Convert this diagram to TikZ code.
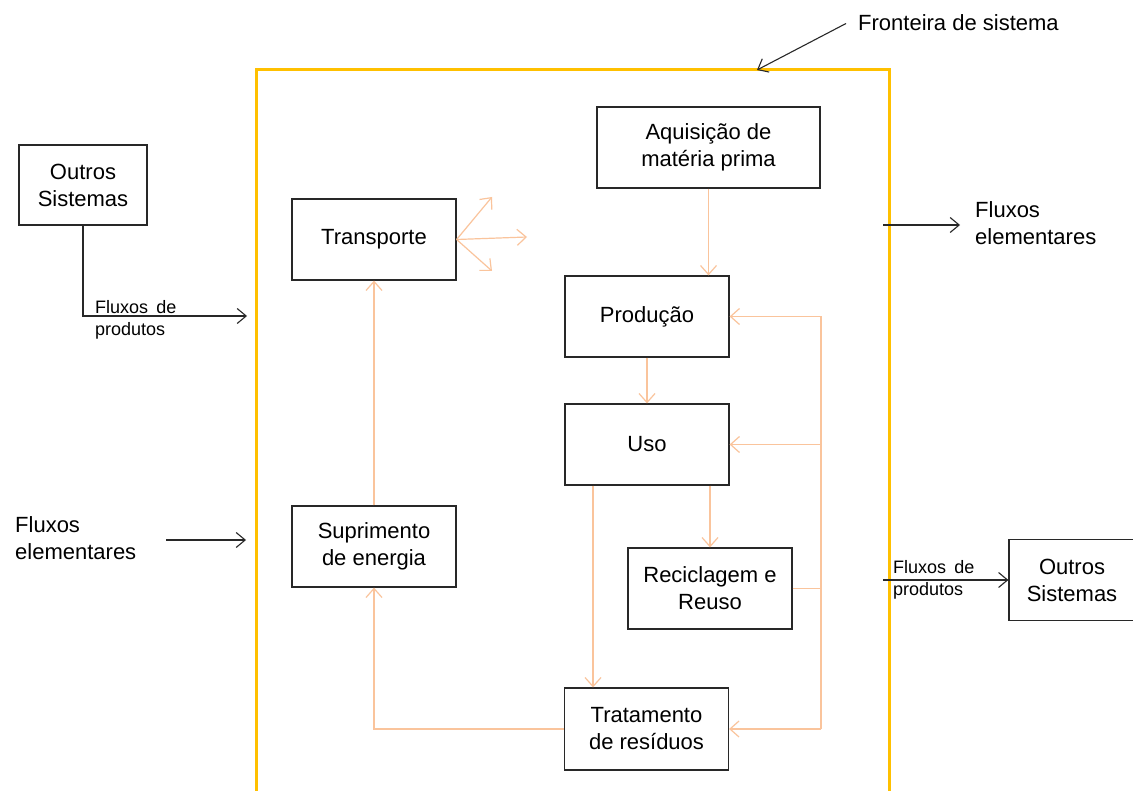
\documentclass[tikz,border=0pt]{standalone}
\usepackage{fontspec}
\setmainfont{Liberation Sans}
\usetikzlibrary{arrows.meta}
\definecolor{frontier}{RGB}{255,192,0}
\definecolor{flow}{RGB}{250,196,156}
\definecolor{ink}{RGB}{40,40,40}
\begin{document}
\begin{tikzpicture}[x=1pt,y=-1pt,
  box/.style={draw=ink, line width=1.2pt, fill=white, inner sep=0pt, align=center,
    font=\fontsize{22}{27}\selectfont},
  flowline/.style={draw=flow, line width=1.2pt},
  flowarrow/.style={flowline, -{Straight Barb[length=9pt,width=16pt,line width=1.2pt]}},
  inkarrow/.style={draw=ink, line width=1.1pt, -{Straight Barb[length=9pt,width=15pt,line width=1.1pt]}},
  biglabel/.style={font=\fontsize{22}{27}\selectfont, align=left, inner sep=0pt, anchor=west},
  smalllabel/.style={font=\fontsize{18}{21.5}\selectfont, align=left, inner sep=0pt, anchor=west}]

\clip (0,0) rectangle (1133,791);
\fill[white] (0,0) rectangle (1133,791);

% system boundary (open at the bottom)
\draw[frontier, line width=3pt] (256,800) -- (256,70) -- (889,70) -- (889,800);

% process boxes
\node[box, minimum width=128pt, minimum height=80pt] (outL)   at (83,185)     {Outros\\Sistemas};
\node[box, minimum width=164pt, minimum height=81pt] (transp) at (374,239.5)  {Transporte};
\node[box, minimum width=223pt, minimum height=81pt] (aquis)  at (708.5,147.5){Aquisição de\\matéria prima};
\node[box, minimum width=164pt, minimum height=81pt] (prod)   at (647,316.5)  {Produção};
\node[box, minimum width=164pt, minimum height=81pt] (uso)    at (647,444.5)  {Uso};
\node[box, minimum width=164pt, minimum height=81pt] (recic)  at (710,588.5)  {Reciclagem e\\Reuso};
\node[box, minimum width=164pt, minimum height=82pt] (trat)   at (646.5,729)  {Tratamento\\de resíduos};
\node[box, minimum width=164pt, minimum height=81pt] (supr)   at (374,546.5)  {Suprimento\\de energia};
\node[box, minimum width=126pt, minimum height=81pt] (outR)   at (1072,580)   {Outros\\Sistemas};

% helper coordinates
\coordinate (usoL) at (593,0);
\coordinate (usoR) at (710,0);
\coordinate (bus)  at (821,0);
\coordinate (t1) at (492,197);
\coordinate (t2) at (527,237);
\coordinate (t3) at (492,271);

% internal flows
\draw[flowarrow] (aquis.south) -- (prod.north -| aquis.south);
\draw[flowarrow] (prod.south) -- (uso.north);
\draw[flowarrow] (uso.south -| usoL) -- (trat.north -| usoL);
\draw[flowarrow] (uso.south -| usoR) -- (recic.north -| usoR);
\draw[flowline] (recic.east) -- (recic.east -| bus);
\draw[flowline] (prod.east -| bus) -- (trat.east -| bus);
\draw[flowarrow] (prod.east -| bus) -- (prod.east);
\draw[flowarrow] (uso.east -| bus) -- (uso.east);
\draw[flowarrow] (trat.east -| bus) -- (trat.east);
\draw[flowarrow] (trat.west) -| (supr.south);
\draw[flowarrow] (supr.north) -- (transp.south);
\draw[flowarrow] (transp.east) -- (t1);
\draw[flowarrow] (transp.east) -- (t2);
\draw[flowarrow] (transp.east) -- (t3);

% exchanges across the boundary
\coordinate (inP)  at (247,316);
\coordinate (eL0)  at (166,540);
\coordinate (eL1)  at (246,540);
\coordinate (eR0)  at (883,225);
\coordinate (eR1)  at (960,225);
\coordinate (pR0)  at (883,580);
\coordinate (fr0)  at (846,23.5);
\coordinate (fr1)  at (757,70);

\draw[inkarrow] (outL.south) |- (inP);
\node[smalllabel] (lblPL) at (95,320) {Fluxos\hspace{0.45em}de\\produtos};

\node[biglabel] (lblEL) at (15,538) {Fluxos\\elementares};
\draw[inkarrow] (eL0) -- (eL1);

\node[biglabel] (lblER) at (975,223) {Fluxos\\elementares};
\draw[inkarrow] (eR0) -- (eR1);

\draw[inkarrow] (pR0) -- (outR.west);
\node[smalllabel] (lblPR) at (893,580) {Fluxos\hspace{0.45em}de\\produtos};

\node[biglabel] (lblFr) at (858,23) {Fronteira de sistema};
\draw[inkarrow] (fr0) -- (fr1);
\end{tikzpicture}
\end{document}
